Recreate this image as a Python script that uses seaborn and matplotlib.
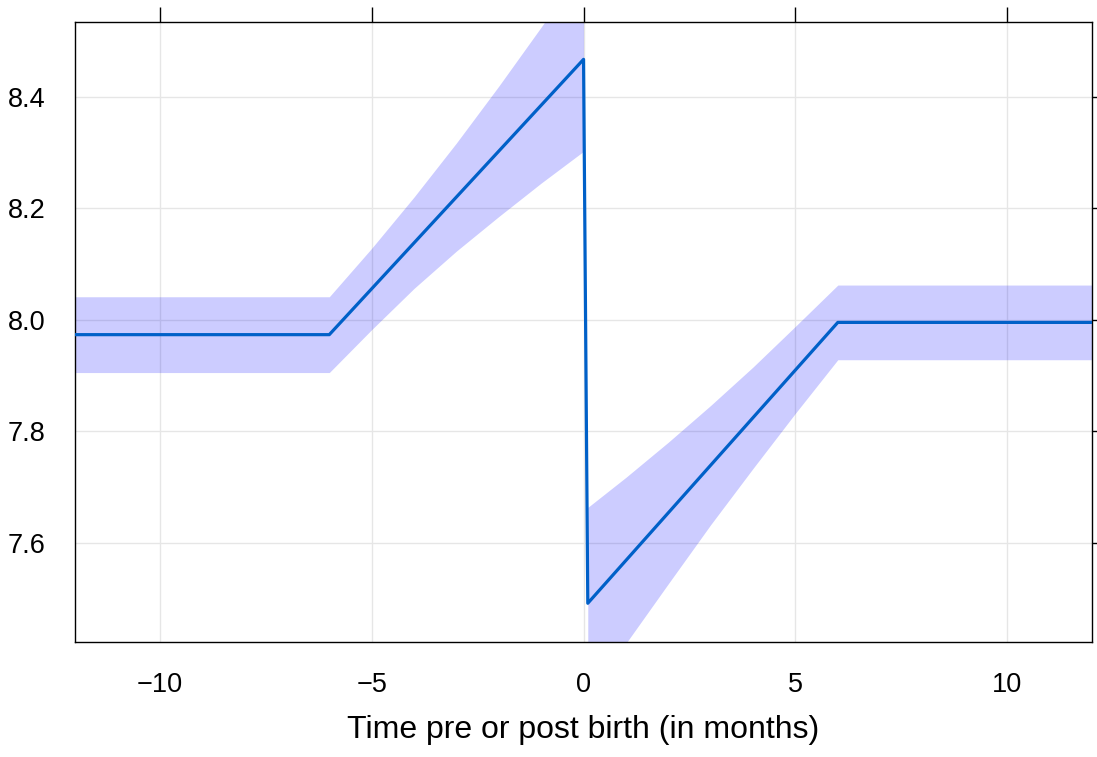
import matplotlib
matplotlib.use("Agg")
import matplotlib.pyplot as plt
import numpy as np
import pandas as pd
import seaborn as sns

# Fitted trajectory (segmented regression around birth)
fit_x = [-12, -6, 0, 0.1, 6, 12]
fit_y = [7.973, 7.973, 8.467, 7.491, 7.995, 7.995]

# Confidence band before birth
pre_x = [-12, -6, -5, -4, -3, -2, -1, 0]
pre_upper = [8.041, 8.041, 8.128, 8.220, 8.317, 8.419, 8.525, 8.632]
pre_lower = [7.905, 7.905, 7.982, 8.056, 8.123, 8.185, 8.245, 8.302]

# Confidence band after birth
post_x = [0.1, 1, 2, 3, 4, 5, 6, 12]
post_upper = [7.663, 7.717, 7.780, 7.846, 7.915, 7.988, 8.062, 8.062]
post_lower = [7.319, 7.419, 7.526, 7.632, 7.733, 7.832, 7.928, 7.928]

x_ticks = [-10, -5, 0, 5, 10]
y_ticks = [7.6, 7.8, 8.0, 8.2, 8.4]
x_label = "Time pre or post birth (in months)"

sns.set_theme(style="white")
plt.rcParams["font.family"] = ["Liberation Sans", "DejaVu Sans"]
plt.rcParams["axes.unicode_minus"] = True

fig = plt.figure(figsize=(10.97, 7.57), dpi=100)
ax = fig.add_axes([0.0684, 0.1523, 0.9271, 0.8186])

# light reference grid
ax.set_axisbelow(True)
for xv in x_ticks:
    ax.axvline(xv, color="#E6E6E6", lw=1.0, zorder=0)
for yv in y_ticks:
    ax.axhline(yv, color="#E6E6E6", lw=1.0, zorder=0)

band_kw = dict(color="blue", alpha=0.2, linewidth=0, zorder=1)
ax.fill_between(pre_x, pre_lower, pre_upper, **band_kw)
ax.fill_between(post_x, post_lower, post_upper, **band_kw)

df = pd.DataFrame({"time": fit_x, "value": fit_y})
sns.lineplot(data=df, x="time", y="value", sort=False, estimator=None,
             color="#0060C8", lw=2.3, ax=ax, zorder=3)

ax.set_xlim(-12, 12)
ax.set_ylim(7.422, 8.534)
ax.set_xticks(x_ticks)
ax.set_yticks(y_ticks)
ax.set_xticklabels([f"{v}".replace("-", "\u2212") for v in x_ticks])
ax.set_yticklabels([f"{v:.1f}" for v in y_ticks])

ax.tick_params(axis="both", which="major", direction="out", length=10.8,
               width=1.0, color="black", top=True, right=True,
               labeltop=False, labelright=False, labelsize=19.5,
               labelcolor="black")
ax.tick_params(axis="x", pad=11)
ax.tick_params(axis="y", pad=10.5)

for side in ["left", "right", "top", "bottom"]:
    ax.spines[side].set_visible(True)
    ax.spines[side].set_color("black")
    ax.spines[side].set_linewidth(1.0)

ax.set_xlabel(x_label, fontsize=23, color="black", labelpad=12.4)
ax.set_ylabel("")

fig.savefig("out.png", dpi=100)
